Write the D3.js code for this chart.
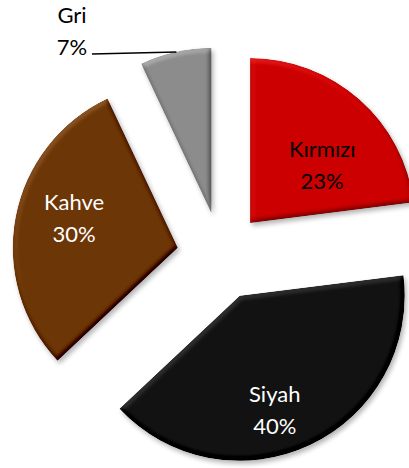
<!DOCTYPE html>
<html>
<head>
<meta charset="utf-8">
<script src="https://cdn.jsdelivr.net/npm/d3@7"></script>
<style>
  html, body { margin: 0; padding: 0; background: #fff; }
  svg { display: block; }
</style>
</head>
<body>
<svg id="chart" width="409" height="468"></svg>
<script>
// ---- data ----
const categories = ["Kırmızı", "Siyah", "Kahve", "Gri"];
const values = [23, 40, 30, 7];
const percentLabels = ["23%", "40%", "30%", "7%"];

// ---- styling / layout ----
const colors = { "Kırmızı": "#cc0000", "Siyah": "#121212", "Kahve": "#6c3606", "Gri": "#8c8c8c" };
const textColors = { "Kırmızı": "#000", "Siyah": "#fff", "Kahve": "#fff", "Gri": "#000" };
// label anchor relative to each exploded slice apex (radius px, angle deg clockwise from 12 o'clock)
const labelPolar = { "Kırmızı": [88, 55], "Siyah": [127, 164], "Kahve": [106, 282], "Gri": [223, 321.3] };
const cx = 221, cy = 256, R = 165, explode = 44;
const fontSize = 22, lineGap = 32;

const svg = d3.select("#chart");
const defs = svg.append("defs");

// bevel + shadow filter
const f = defs.append("filter").attr("id", "bevel")
  .attr("color-interpolation-filters", "sRGB")
  .attr("x", "-10%").attr("y", "-10%").attr("width", "130%").attr("height", "130%");
f.append("feGaussianBlur").attr("in", "SourceAlpha").attr("stdDeviation", 2.4).attr("result", "blur");
const light = f.append("feDiffuseLighting").attr("in", "blur").attr("surfaceScale", 3)
  .attr("diffuseConstant", 1).attr("lighting-color", "#fff").attr("result", "diff");
light.append("feDistantLight").attr("azimuth", 240).attr("elevation", 50);
f.append("feComposite").attr("in", "SourceGraphic").attr("in2", "diff")
  .attr("operator", "arithmetic").attr("k1", 0).attr("k2", 1).attr("k3", 0.45).attr("k4", -0.345).attr("result", "lit");
f.append("feComposite").attr("in", "lit").attr("in2", "SourceAlpha").attr("operator", "in").attr("result", "litc");
f.append("feGaussianBlur").attr("in", "SourceAlpha").attr("stdDeviation", 2.5).attr("result", "sblur");
f.append("feOffset").attr("in", "sblur").attr("dx", 2).attr("dy", 3).attr("result", "soff");
f.append("feComponentTransfer").attr("in", "soff").attr("result", "shadow")
  .append("feFuncA").attr("type", "linear").attr("slope", 0.3);
const m = f.append("feMerge");
m.append("feMergeNode").attr("in", "shadow");
m.append("feMergeNode").attr("in", "litc");

const data = categories.map((c, i) => ({ name: c, value: values[i], label: percentLabels[i] }));
const pie = d3.pie().value(d => d.value).sort(null).startAngle(0).endAngle(2 * Math.PI);
const arcs = pie(data);
const arc = d3.arc().innerRadius(0).outerRadius(R);

const g = svg.append("g").attr("transform", `translate(${cx},${cy})`);

function apexOf(a) {
  const mid = (a.startAngle + a.endAngle) / 2;
  return [explode * Math.sin(mid), -explode * Math.cos(mid)];
}

g.selectAll("path.slice").data(arcs).enter().append("path")
  .attr("class", "slice")
  .attr("d", arc)
  .attr("fill", d => colors[d.data.name])
  .attr("transform", d => { const p = apexOf(d); return `translate(${p[0]},${p[1]})`; })
  .attr("filter", "url(#bevel)");

// leader line for the outside label (Gri)
arcs.filter(d => d.data.name === "Gri").forEach(d => {
  const p = apexOf(d);
  const mid = (d.startAngle + d.endAngle) / 2;
  const ex = p[0] + R * Math.sin(mid), ey = p[1] - R * Math.cos(mid);
  const lp = labelPolar[d.data.name];
  const la = lp[1] * Math.PI / 180;
  const lx = p[0] + lp[0] * Math.sin(la), ly = p[1] - lp[0] * Math.cos(la);
  g.append("line")
    .attr("x1", lx + 20).attr("y1", ly + lineGap / 2 - 1)
    .attr("x2", ex + 1).attr("y2", ey)
    .attr("stroke", "#000").attr("stroke-width", 1.6);
});

// labels
const labels = g.selectAll("text.lbl").data(arcs).enter().append("text")
  .attr("class", "lbl")
  .attr("text-anchor", "middle")
  .attr("font-family", "Lato, 'Open Sans', sans-serif")
  .attr("font-size", fontSize)
  .attr("fill", d => textColors[d.data.name])
  .attr("transform", d => {
    const p = apexOf(d);
    const lp = labelPolar[d.data.name];
    const la = lp[1] * Math.PI / 180;
    return `translate(${p[0] + lp[0] * Math.sin(la)},${p[1] - lp[0] * Math.cos(la)})`;
  });
labels.append("tspan").attr("x", 0).attr("y", -lineGap / 2).text(d => d.data.name);
labels.append("tspan").attr("x", 0).attr("y", lineGap / 2).text(d => d.data.label);
</script>
</body>
</html>
